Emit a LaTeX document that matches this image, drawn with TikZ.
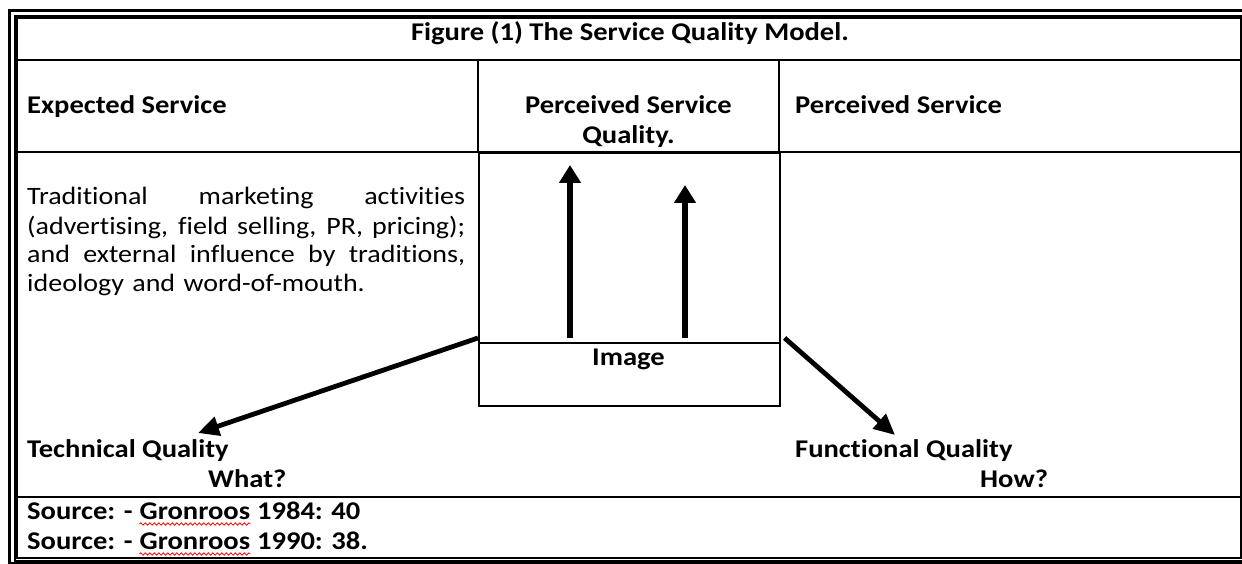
\documentclass[tikz,border=0pt]{standalone}
\usepackage{fontspec}
\setmainfont{Carlito}[FakeStretch=1.12, Ligatures=CommonOff]
\usetikzlibrary{positioning, arrows.meta, decorations.pathmorphing}
\newcommand{\jline}[1]{\leavevmode\hbox to 438pt{\spaceskip=.226em plus 1fil\relax #1}}

\begin{document}
\begin{tikzpicture}[x=1pt, y=-1pt,
  txt/.style={inner sep=0pt, font=\fontsize{25}{29}\selectfont},
  hdr/.style={inner sep=0pt, font=\fontsize{25.5}{30.5}\selectfont\bfseries},
  grid/.style={draw, line width=1.6pt},
  cell/.style={draw, line width=1.6pt, inner sep=0pt, minimum width=301pt, anchor=north west},
  up/.style={line width=6.5pt, -{Triangle[length=18pt, width=21pt]}},
  diag/.style={line width=4.8pt, -{Triangle[length=21pt, width=19pt]}},
  squig/.style={red, line width=0.8pt, decorate, decoration={snake, amplitude=1.2pt, segment length=4.5pt}},
]
  \useasboundingbox (0,0) rectangle (1242,564);
  \clip (0,0) rectangle (1242,564);
  % double frame round the table
  \draw[line width=3pt] (9,10.5) rectangle (1260,563.5);
  \draw[line width=2pt] (14.5,16) rectangle (1255,560.5);
  \draw[grid] (17,18) rectangle (1241,558);
  \draw[grid] (17,60) -- (1241,60);
  \draw[grid] (17,152) -- (1241,152);
  \draw[grid] (17,497) -- (1241,497);
  \draw[grid] (478,60) -- (478,152) (779,60) -- (779,152);

  \node[cell, minimum height=190pt] (perq) at (478,152) {};
  \node[cell, minimum height=63pt] (image) at (478,342) {};

  \node[hdr, anchor=base] (title) at (630,41) {Figure (1) The Service Quality Model.};
  \node[hdr, anchor=base west] (expect) at (27,113.5) {Expected Service};
  \node[hdr, anchor=base, align=center] (psq) at (628.5,144) {Perceived Service\\Quality.};
  \node[hdr, anchor=base west] (perceived) at (795,113.5) {Perceived Service};
  \node[txt, anchor=base west, text width=438pt] (trad) at (27,205) {%
    \jline{Traditional marketing activities}\\
    \jline{(advertising, field selling, PR, pricing);}\\
    \jline{and external influence by traditions,}\\
    ideology and word-of-mouth.};
  \node[hdr, anchor=base] (imgtxt) at (628.5,365) {Image};
  \node[hdr, anchor=base west] (tech) at (27,457) {Technical Quality};
  \node[hdr, anchor=base west] (what) at (208,487) {What?};
  \node[hdr, anchor=base west] (func) at (795,457) {Functional Quality};
  \node[hdr, anchor=base west] (how) at (980,487) {How?};

  \node[hdr, anchor=base west] (srca) at (27,519) {Source: -};
  \node[hdr, base right=6.5pt of srca] (grona) {Gronroos};
  \node[hdr, base right=6.5pt of grona] (yeara) {1984: 40};
  \node[hdr, anchor=base west] (srcb) at (27,549) {Source: -};
  \node[hdr, base right=6.5pt of srcb] (gronb) {Gronroos};
  \node[hdr, base right=6.5pt of gronb] (yearb) {1990: 38.};

  \coordinate (upa) at (570,165);
  \coordinate (upb) at (685,185);
  \coordinate (techtip) at (198,433);
  \coordinate (functip) at (895,435);

  \path[up, shorten <=4pt]
    (upa |- image.north) edge (upa)
    (upb |- image.north) edge (upb);
  \path[diag]
    ([yshift=4pt]image.north west) edge (techtip)
    ([xshift=4pt,yshift=4pt]image.north east) edge (functip);
  \draw[squig] ([yshift=-5pt]grona.base west) -- ([yshift=-5pt]grona.base east);
  \draw[squig] ([yshift=-5pt]gronb.base west) -- ([yshift=-5pt]gronb.base east);
\end{tikzpicture}
\end{document}
